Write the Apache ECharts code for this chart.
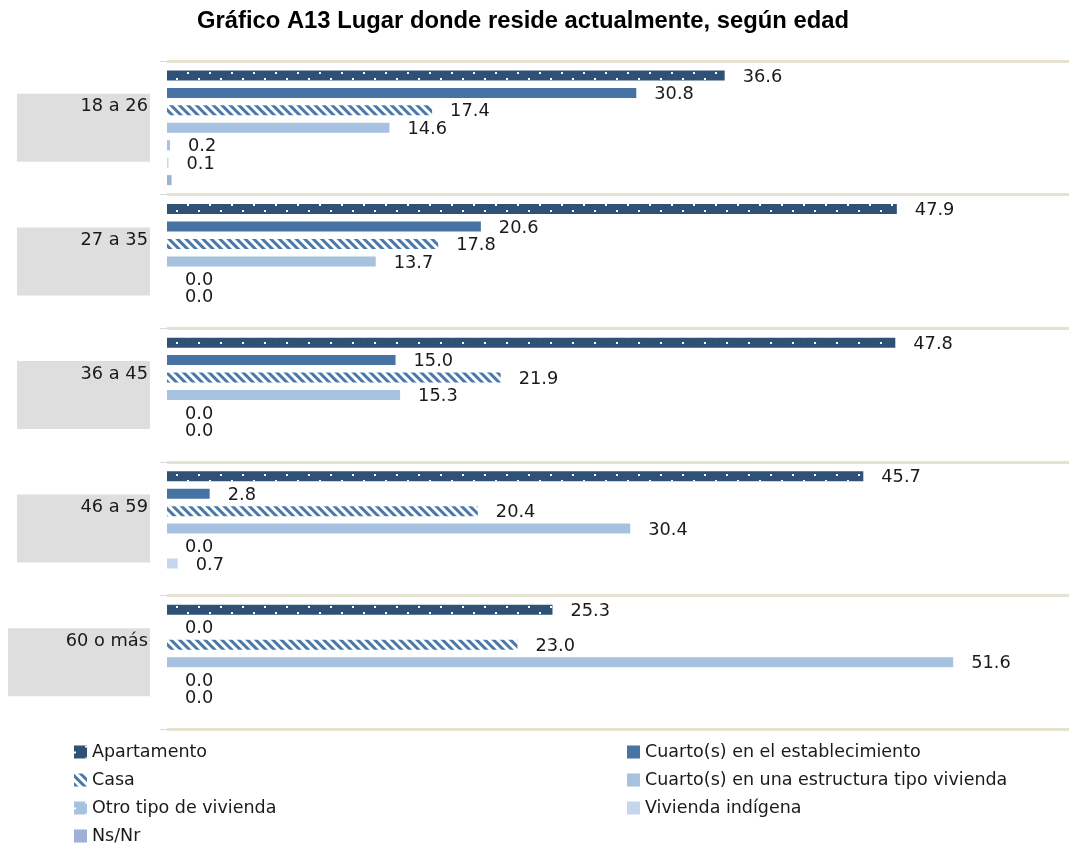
<!DOCTYPE html>
<html>
<head>
<meta charset="utf-8">
<script src="https://cdn.jsdelivr.net/npm/echarts@6/dist/echarts.min.js"></script>
<style>
  html, body { margin: 0; padding: 0; background: #ffffff; }
  #chart { width: 1069px; height: 846px; }
</style>
</head>
<body>
<div id="chart"></div>
<script>
const categories = ['18 a 26', '27 a 35', '36 a 45', '46 a 59', '60 o más'];
const seriesNames = [
  'Apartamento',
  'Cuarto(s) en el establecimiento',
  'Casa',
  'Cuarto(s) en una estructura tipo vivienda',
  'Otro tipo de vivienda',
  'Vivienda indígena',
  'Ns/Nr'
];
const apartamento = [36.6, 47.9, 47.8, 45.7, 25.3];
const cuartoEstablecimiento = [30.8, 20.6, 15.0, 2.8, 0.0];
const casa = [17.4, 17.8, 21.9, 20.4, 23.0];
const cuartoEstructura = [14.6, 13.7, 15.3, 30.4, 51.6];
const otroTipo = [0.2, 0.0, 0.0, 0.0, 0.0];
const viviendaIndigena = [0.1, 0.0, 0.0, 0.7, 0.0];
const nsnr = [0.3, 0, 0, 0, 0];

const FONT = 'DejaVu Sans';
const dotDecal = {
  symbol: 'rect', symbolSize: 1, color: '#ffffff',
  dashArrayX: [[2, 20], [0, 11, 2, 9]],
  dashArrayY: [2, 4]
};
const stripeDecal = {
  symbol: 'rect', symbolSize: 1, color: '#4a78a8',
  dashArrayX: [1, 0],
  dashArrayY: [3, 3],
  rotation: Math.PI / 4
};

function mkSeries(name, data, style, showLabel) {
  return {
    name: name,
    type: 'bar',
    data: data,
    barWidth: 10,
    barGap: '74.5%',
    itemStyle: style,
    label: {
      show: showLabel,
      position: 'right',
      distance: 18,
      offset: [0, 1.5],
      fontFamily: FONT,
      fontSize: 17.8,
      color: '#1a1a1a',
      formatter: p => Number(p.value).toFixed(1)
    }
  };
}

const chart = echarts.init(document.getElementById('chart'), null, { renderer: 'canvas' });
chart.setOption({
  animation: false,
  backgroundColor: '#ffffff',
  title: {
    text: 'Gráfico A13 Lugar donde reside actualmente, según edad',
    left: 197,
    top: 9,
    padding: 0,
    textStyle: {
      fontFamily: 'Liberation Sans',
      fontWeight: 'bold',
      fontSize: 23.8,
      lineHeight: 24,
      color: '#000000'
    }
  },
  legend: [
    {
      data: ['Apartamento', 'Casa', 'Otro tipo de vivienda', 'Ns/Nr'],
      orient: 'vertical',
      left: 74,
      top: 742,
      padding: 0,
      itemWidth: 13,
      itemHeight: 13,
      itemGap: 8,
      icon: 'rect',
      textStyle: { fontFamily: FONT, fontSize: 17.5, lineHeight: 20, color: '#1a1a1a' }
    },
    {
      data: ['Cuarto(s) en el establecimiento', 'Cuarto(s) en una estructura tipo vivienda', 'Vivienda indígena'],
      orient: 'vertical',
      left: 627,
      top: 742,
      padding: 0,
      itemWidth: 13,
      itemHeight: 13,
      itemGap: 8,
      icon: 'rect',
      textStyle: { fontFamily: FONT, fontSize: 17.5, lineHeight: 20, color: '#1a1a1a' }
    }
  ],
  grid: {
    left: 167,
    right: 0,
    top: 61,
    height: 668,
    containLabel: false,
    outerBoundsMode: 'none'
  },
  xAxis: {
    type: 'value',
    min: 0,
    max: 59.2,
    show: false
  },
  yAxis: {
    type: 'category',
    data: categories,
    inverse: true,
    axisLine: { show: false },
    axisTick: { show: true, length: 7, lineStyle: { color: '#d9d9d9', width: 1 } },
    splitLine: { show: true, lineStyle: { color: '#e5e2d2', width: 3 } },
    axisLabel: {
      margin: 17,
      fontFamily: FONT,
      fontSize: 17.8,
      color: '#1a1a1a',
      backgroundColor: '#dedede',
      padding: [3, 2, 45, 2],
      lineHeight: 20,
      formatter: (v, i) => (i === 4 ? '{w|' + v + '}' : '{n|' + v + '}'),
      rich: {
        n: { width: 129, align: 'right', fontFamily: FONT, fontSize: 17.8, lineHeight: 20, color: '#1a1a1a' },
        w: { width: 138, align: 'right', fontFamily: FONT, fontSize: 17.8, lineHeight: 20, color: '#1a1a1a' }
      }
    }
  },
  series: [
    mkSeries(seriesNames[0], apartamento, { color: '#2f5175', decal: dotDecal }, true),
    mkSeries(seriesNames[1], cuartoEstablecimiento, { color: '#4673a3' }, true),
    mkSeries(seriesNames[2], casa, { color: '#ffffff', decal: stripeDecal }, true),
    mkSeries(seriesNames[3], cuartoEstructura, { color: '#a7c1e0' }, true),
    mkSeries(seriesNames[4], otroTipo, { color: '#a7c1e0', decal: dotDecal }, true),
    mkSeries(seriesNames[5], viviendaIndigena, { color: '#c5d7ee' }, true),
    mkSeries(seriesNames[6], nsnr, { color: '#9db1d4' }, false)
  ]
});
</script>
</body>
</html>
